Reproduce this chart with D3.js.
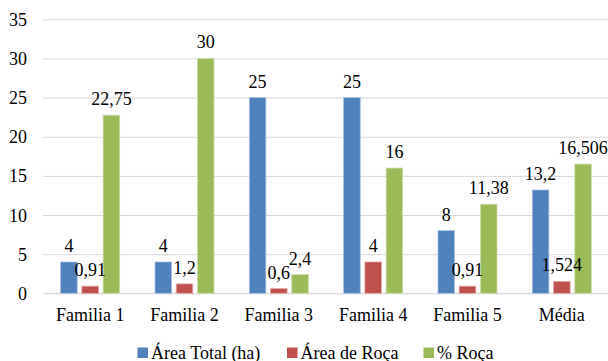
<!DOCTYPE html>
<html>
<head>
<meta charset="utf-8">
<script src="https://cdn.jsdelivr.net/npm/d3@7"></script>
<style>
  html, body { margin: 0; padding: 0; background: #fff; }
  svg { display: block; }
</style>
</head>
<body>
<svg id="chart" width="608" height="361"></svg>
<script>
const categories = ["Familia 1", "Familia 2", "Familia 3", "Familia 4", "Familia 5", "Média"];
const seriesNames = ["Área Total (ha)", "Área de Roça", "% Roça"];
const areaTotal = [4, 4, 25, 25, 8, 13.2];
const areaRoca = [0.91, 1.2, 0.6, 4, 0.91, 1.524];
const pctRoca = [22.75, 30, 2.4, 16, 11.38, 16.506];
const labelsTotal = ["4", "4", "25", "25", "8", "13,2"];
const labelsRoca = ["0,91", "1,2", "0,6", "4", "0,91", "1,524"];
const labelsPct = ["22,75", "30", "2,4", "16", "11,38", "16,506"];
const yTicks = [0, 5, 10, 15, 20, 25, 30, 35];
const colors = ["#4F81BD", "#C0504D", "#9BBB59"];
const strokes = ["#a7c0de", "#e0a8a6", "#cddcac"];

const seriesValues = [areaTotal, areaRoca, pctRoca];
const seriesLabels = [labelsTotal, labelsRoca, labelsPct];
const FONT = '"Liberation Serif"';
const FS = "18px";

const svg = d3.select("#chart");
const mLeft = 43, mRight = 609, mTop = 19.3, mBottom = 293.3;

const x0 = d3.scaleBand().domain(categories).range([mLeft, mRight]).padding(0);
const x1 = d3.scaleBand().domain(seriesNames).range([-29.5, 29.5]).paddingInner(0.22).paddingOuter(0);
const y = d3.scaleLinear().domain([0, 35]).range([mBottom, mTop]);

// gridlines
const yAxis = d3.axisLeft(y).tickValues(yTicks).tickSize(-(mRight - mLeft)).tickFormat(d => d);
const gy = svg.append("g").attr("transform", `translate(${mLeft},0)`).call(yAxis);
gy.attr("font-family", null).attr("font-size", null);
gy.select(".domain").remove();
gy.selectAll(".tick line").attr("stroke", "#d9d9d9").attr("stroke-width", 1);
gy.selectAll(".tick text").attr("x", -16).attr("dy", "0.34em").attr("fill", "#000")
  .style("font-size", FS).style("font-family", FONT);

// baseline
svg.append("line").attr("x1", mLeft).attr("x2", mRight).attr("y1", y(0)).attr("y2", y(0))
  .attr("stroke", "#d9d9d9").attr("stroke-width", 1);

// bars
const groups = svg.append("g").selectAll("g")
  .data(categories).join("g")
  .attr("transform", d => `translate(${x0(d) + x0.bandwidth() / 2},0)`);

seriesNames.forEach((s, si) => {
  groups.append("rect")
    .attr("x", x1(s))
    .attr("width", x1.bandwidth())
    .attr("y", (d, i) => y(seriesValues[si][i]))
    .attr("height", (d, i) => y(0) - y(seriesValues[si][i]))
    .attr("fill", colors[si])
    .attr("stroke", strokes[si])
    .attr("stroke-width", 0.8);
});

// data labels (drawn above all bars)
const labelLayer = svg.append("g").selectAll("g")
  .data(categories).join("g")
  .attr("transform", d => `translate(${x0(d) + x0.bandwidth() / 2},0)`);
seriesNames.forEach((s, si) => {
  labelLayer.append("text")
    .attr("x", x1(s) + x1.bandwidth() / 2)
    .attr("y", (d, i) => y(seriesValues[si][i]) - 10)
    .attr("text-anchor", "middle")
    .style("font-size", FS)
    .style("font-family", FONT)
    .attr("fill", "#000")
    .text((d, i) => seriesLabels[si][i]);
});

// x axis labels
const xAxis = d3.axisBottom(x0).tickSize(0).tickPadding(0);
const gx = svg.append("g").attr("transform", `translate(0,${mBottom})`).call(xAxis);
gx.attr("font-family", null).attr("font-size", null);
gx.select(".domain").remove();
gx.selectAll(".tick text").attr("y", 0).attr("dy", "28px").attr("fill", "#000")
  .style("font-size", FS).style("font-family", FONT);

// legend
const legendX = [137.5, 287, 423.5];
const leg = svg.append("g");
seriesNames.forEach((s, si) => {
  leg.append("rect").attr("x", legendX[si]).attr("y", 347.5).attr("width", 10.5).attr("height", 10.5)
    .attr("fill", colors[si]);
  leg.append("text").attr("x", legendX[si] + 13.5).attr("y", 358.5)
    .style("font-size", FS).style("font-family", FONT).attr("fill", "#000").text(s);
});
</script>
</body>
</html>
